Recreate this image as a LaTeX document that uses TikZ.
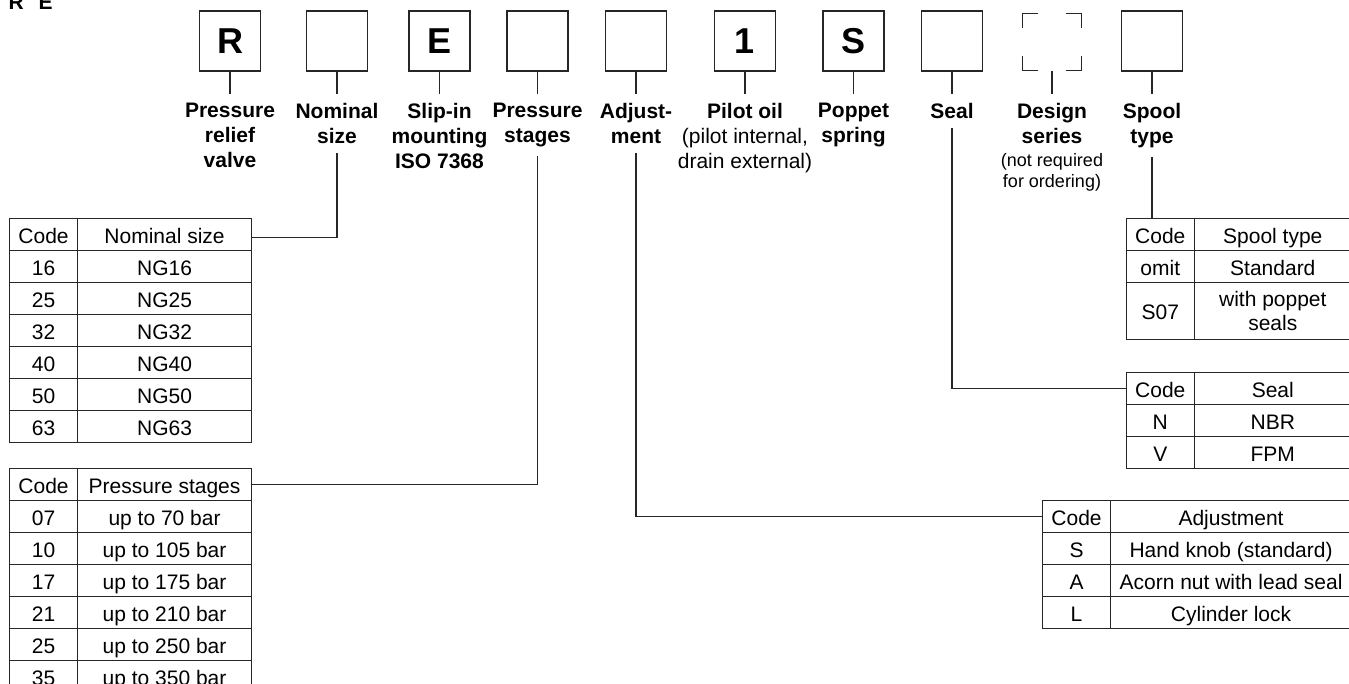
\documentclass[tikz,border=0pt]{standalone}
\usepackage{fontspec}
\setmainfont{Liberation Sans}
\usetikzlibrary{calc}
\newcommand\lfont{\fontsize{21}{25}\selectfont\bfseries}
\newcommand\tfont{\fontsize{21}{24}\selectfont}
\newcommand\nfont{\fontsize{18}{21}\selectfont}
\newcommand\trow[8]{%
  \node[cell, minimum width=#4, minimum height=#6] (#1a) at (#2,#3) {#7};
  \node[cell, minimum width=#5, minimum height=#6] (#1b) at (#2+#4,#3) {#8};}
\begin{document}
\begin{tikzpicture}[x=1pt,y=-1pt,
  ln/.style={draw=black!85, line width=1.1pt},
  codebox/.style={ln, minimum width=61pt, minimum height=60pt, inner sep=0pt,
    font=\fontsize{36}{40}\selectfont\bfseries},
  lbl/.style={align=center, font=\lfont, anchor=north, inner xsep=0pt, inner ysep=9pt},
  cellbase/.style={ln, anchor=north west, inner sep=0pt, font=\tfont, align=center},
  cell/.style={cellbase, text height=19pt, text depth=2pt},
]
\useasboundingbox (0,0) rectangle (1349,684);
\clip (0,0) rectangle (1349,684);

% title (cut at top edge)
\node[anchor=base west, inner sep=0pt, font=\lfont] (title) at (8.5,9.3) {R\hspace{14.7pt}E};

% code boxes
\node[codebox] (bR)  at (230,41)   {R};
\node[codebox] (bN)  at (337,41)   {};
\node[codebox] (bE)  at (439.5,41) {E};
\node[codebox] (bPS) at (537.5,41) {};
\node[codebox] (bA)  at (636,41)   {};
\node[codebox] (bP)  at (745,41)   {1};
\node[codebox] (bS)  at (853.5,41) {S};
\node[codebox] (bSe) at (952,41)   {};
\node[minimum width=58pt, minimum height=57pt, inner sep=0pt] (bD) at (1052,42) {};
\node[codebox] (bSp) at (1152,41)  {};

% dashed (corner) box
\draw[ln] ([yshift=-15pt]bD.north west) -- (bD.north west) -- ([xshift=15pt]bD.north west);
\draw[ln] ([yshift=-15pt]bD.north east) -- (bD.north east) -- ([xshift=-15pt]bD.north east);
\draw[ln] ([yshift=15pt]bD.south west) -- (bD.south west) -- ([xshift=15pt]bD.south west);
\draw[ln] ([yshift=15pt]bD.south east) -- (bD.south east) -- ([xshift=-15pt]bD.south east);

% labels
\node[lbl] (lR)  at (230,94)   {Pressure\\relief\\valve};
\node[lbl] (lN)  at (337,94)   {Nominal\\size};
\node[lbl] (lE)  at (439.5,94) {Slip-in\\mounting\\ISO 7368};
\node[lbl] (lPS) at (537.5,94) {Pressure\\stages};
\node[lbl] (lA)  at (636,94)   {Adjust-\\ment};
\node[lbl, font=\fontsize{21}{25}\selectfont] (lP) at (745,94)
  {\textbf{Pilot oil}\\(pilot internal,\\drain external)};
\node[lbl] (lS)  at (853.5,94) {Poppet\\spring};
\node[lbl] (lSe) at (952,94)   {Seal};
\node[lbl] (lD)  at (1052,94)  {Design\\series};
\node[align=center, font=\nfont, anchor=north, inner sep=0pt] (note) at (1052,153)
  {(not required\\for ordering)};
\node[lbl] (lSp) at (1152,94)  {Spool\\type};

% ticks
\foreach \b/\l in {bR/lR,bN/lN,bE/lE,bPS/lPS,bA/lA,bP/lP,bS/lS,bSe/lSe,bD/lD,bSp/lSp}
  \draw[ln] (\b.south) -- (\l.north);

% nominal size table
\trow{nh}{9}{218}{68}{174}{32}{Code}{Nominal size}
\trow{n1}{9}{250}{68}{174}{32}{16}{NG16}
\trow{n2}{9}{282}{68}{174}{32}{25}{NG25}
\trow{n3}{9}{314}{68}{174}{32}{32}{NG32}
\trow{n4}{9}{346}{68}{174}{32}{40}{NG40}
\trow{n5}{9}{378}{68}{174}{32}{50}{NG50}
\trow{n6}{9}{410}{68}{174}{32}{63}{NG63}

% pressure stages table
\trow{ph}{9}{468}{68}{174}{32}{Code}{Pressure stages}
\trow{p1}{9}{500}{68}{174}{32}{07}{up to 70 bar}
\trow{p2}{9}{532}{68}{174}{32}{10}{up to 105 bar}
\trow{p3}{9}{564}{68}{174}{32}{17}{up to 175 bar}
\trow{p4}{9}{596}{68}{174}{32}{21}{up to 210 bar}
\trow{p5}{9}{628}{68}{174}{32}{25}{up to 250 bar}
\trow{p6}{9}{660}{68}{174}{32}{35}{up to 350 bar}

% spool type table
\trow{sh}{1126}{218}{67.5}{157.5}{32}{Code}{Spool type}
\trow{s1}{1126}{250}{67.5}{157.5}{32}{omit}{Standard}
\node[cell, minimum width=67.5, minimum height=57] (s2a) at (1126,282) {S07};
\node[cellbase, minimum width=157.5, minimum height=57] (s2b) at (1193.5,282) {with poppet\\seals};

% seal table
\trow{eh}{1126}{372}{67.5}{157.5}{32}{Code}{Seal}
\trow{e1}{1126}{404}{67.5}{157.5}{32}{N}{NBR}
\trow{e2}{1126}{436}{67.5}{157.5}{32}{V}{FPM}

% adjustment table
\trow{ah}{1042}{500}{68}{241}{32}{Code}{Adjustment}
\trow{a1}{1042}{532}{68}{241}{32}{S}{Hand knob (standard)}
\trow{a2}{1042}{564}{68}{241}{32}{A}{Acorn nut with lead seal}
\trow{a3}{1042}{596}{68}{241}{32}{L}{Cylinder lock}

% connectors from labels to tables
\draw[ln] (lN.south) |- ([yshift=-3pt]nhb.east);
\draw[ln] (lPS.south) |- (phb.east);
\draw[ln] (lA.south) |- (aha.west);
\draw[ln] (lSe.south) |- (eha.west);
\draw[ln] (lSp.south) -- (lSp.south |- sha.north);
\end{tikzpicture}
\end{document}
